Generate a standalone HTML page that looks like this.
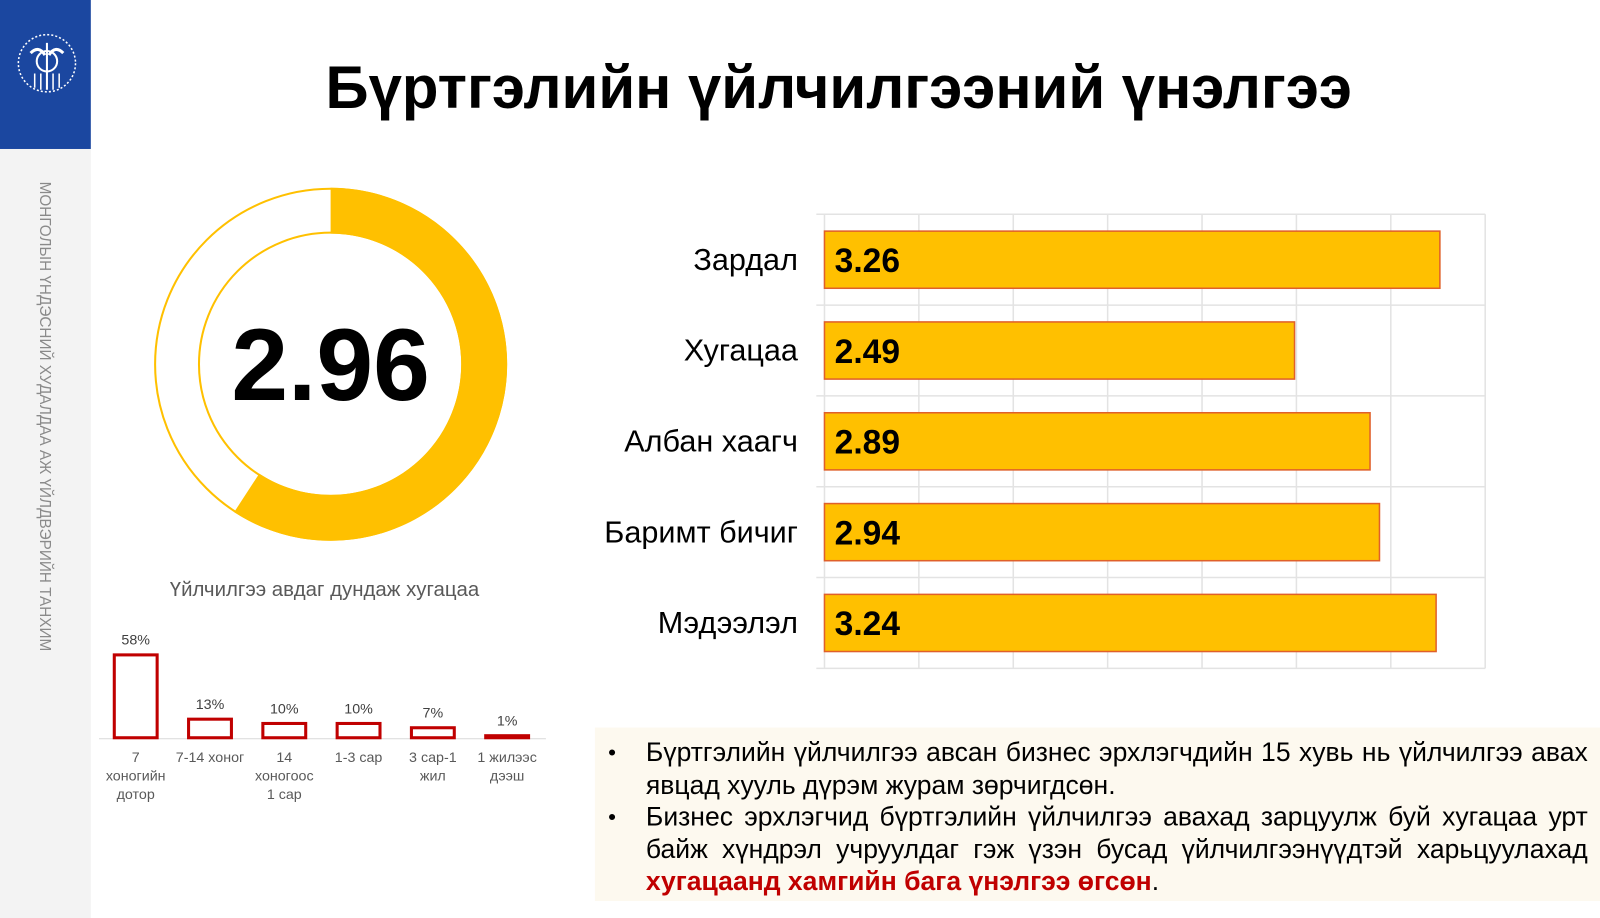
<!DOCTYPE html>
<html><head><meta charset="utf-8">
<style>
html,body{margin:0;padding:0}
body{width:1600px;height:900px;position:relative;overflow:hidden;background:#fff;font-family:"Liberation Sans",Arial,sans-serif}
#wrap{position:absolute;left:0;top:0;width:1568px;height:882px;transform-origin:0 0;transform:scale(1.0204)}
.abs{position:absolute}
</style></head>
<body>
<div id="wrap">
<div class="abs" style="left:0;top:0;width:89px;height:900px;background:#f3f3f3"></div>
<div class="abs" style="left:0;top:0;width:89px;height:146px;background:#1b47a0">
<svg width="89" height="146">
<circle cx="46" cy="62" r="28" fill="none" stroke="#fff" stroke-width="1.5" stroke-dasharray="2 2"/>
<circle cx="46" cy="60" r="10" fill="none" stroke="#fff" stroke-width="2"/>
<path d="M30 52 q8 -8 14 2 M62 52 q-8 -8 -14 2" stroke="#fff" stroke-width="3" fill="none"/>
<line x1="46" y1="42" x2="46" y2="88" stroke="#fff" stroke-width="2"/>
<path d="M34 72v14M40 72v16M52 72v16M58 72v14" stroke="#fff" stroke-width="1.5"/>
</svg></div>
<div class="abs" style="left:44px;top:178px;transform-origin:0 0;transform:rotate(90deg) translate(0,-8px);white-space:nowrap;font-size:15px;color:#8a8a8a">МОНГОЛЫН ҮНДЭСНИЙ ХУДАЛДАА АЖ ҮЙЛДВЭРИЙН ТАНХИМ</div>

<div class="abs" style="left:89px;width:1466px;top:53px;text-align:center;font-size:58.7px;font-weight:bold;color:#000">Бүртгэлийн үйлчилгээний үнэлгээ</div>

<svg class="abs" style="left:0;top:0" width="1600" height="900" id="charts">
<g id="donut"></g>
<g id="small"></g>
<g id="hbar"></g>
</svg>

<div class="abs" style="left:118px;width:400px;top:567px;text-align:center;font-size:20px;color:#595959">Үйлчилгээ авдаг дундаж хугацаа</div>

<div class="abs" style="left:583px;top:713px;width:985px;height:170px;background:#fdf9ef"></div>
<div class="abs" style="left:596px;top:722px;width:960px;font-size:26px;line-height:31.5px;color:#000">
<div style="position:relative;padding-left:37px;text-align:justify"><span style="position:absolute;left:0;font-size:22px">•</span>Бүртгэлийн үйлчилгээ авсан бизнес эрхлэгчдийн 15 хувь нь үйлчилгээ авах явцад хууль дүрэм журам зөрчигдсөн.</div>
<div style="position:relative;padding-left:37px;text-align:justify"><span style="position:absolute;left:0;font-size:22px">•</span>Бизнес эрхлэгчид бүртгэлийн үйлчилгээ авахад зарцуулж буй хугацаа урт байж хүндрэл учруулдаг гэж үзэн бусад үйлчилгээнүүдтэй харьцуулахад <b style="color:#c00000">хугацаанд хамгийн бага үнэлгээ өгсөн</b>.</div>
</div>
</div>

<script>
const donutValue = 2.96;
const donutMax = 5;
const smallCategories = [["7","хоногийн","дотор"],["7-14 хоног"],["14","хоногоос","1 сар"],["1-3 сар"],["3 сар-1","жил"],["1 жилээс","дээш"]];
const smallValues = [58, 13, 10, 10, 7, 1];
const smallLabels = ["58%","13%","10%","10%","7%","1%"];
const hCategories = ["Зардал","Хугацаа","Албан хаагч","Баримт бичиг","Мэдээлэл"];
const hValues = [3.26, 2.49, 2.89, 2.94, 3.24];
const hLabels = ["3.26","2.49","2.89","2.94","3.24"];
const hTicks = [0,0.5,1,1.5,2,2.5,3,3.5];

const NS="http://www.w3.org/2000/svg";
function mk(tag, attrs, parent){const e=document.createElementNS(NS,tag);for(const k in attrs)e.setAttribute(k,attrs[k]);parent.appendChild(e);return e;}

(function(){
  const g=document.getElementById('donut');
  const cx=324, cy=357, R=173, r=128;
  const c1=mk('circle',{cx:cx,cy:cy,r:R-1,fill:'none',stroke:'#ffc000','stroke-width':2},g);
  
  
  const c2=mk('circle',{cx:cx,cy:cy,r:r+1,fill:'none',stroke:'#ffc000','stroke-width':2},g);
  
  
  const a=2*Math.PI*donutValue/donutMax;
  const pt=(rad,ang)=>[cx+rad*Math.sin(ang), cy-rad*Math.cos(ang)];
  const large=a>Math.PI?1:0;
  const [x1,y1]=pt(R,0),[x2,y2]=pt(R,a),[x3,y3]=pt(r,a),[x4,y4]=pt(r,0);
  const p=mk('path',{d:`M${x1} ${y1} A${R} ${R} 0 ${large} 1 ${x2} ${y2} L${x3} ${y3} A${r} ${r} 0 ${large} 0 ${x4} ${y4} Z`,fill:'#ffc000'},g);
  
  
  const t=mk('text',{x:cx,y:cy+35,'text-anchor':'middle','font-size':100,'font-weight':'bold',fill:'#000','font-family':'Liberation Sans, sans-serif'},g);
  t.textContent=donutValue.toFixed(2);
  
  
})();

(function(){
  const g=document.getElementById('small');
  const base=723, x0=133, step=72.8, bw=42, k=1.4;
  const ax=mk('line',{x1:97,y1:base+1,x2:535,y2:base+1,stroke:'#d9d9d9','stroke-width':1},g);
  
  
  smallValues.forEach((v,i)=>{
    const cx=x0+i*step, h=Math.max(v*k,2);
    const b=mk('rect',{x:cx-bw/2,y:base-h,width:bw,height:h,fill:'#fff',stroke:'#c00000','stroke-width':3},g);
    
    
    const t=mk('text',{x:cx,y:base-h-10,'text-anchor':'middle','font-size':14,fill:'#404040'},g);
    t.textContent=smallLabels[i];
    
    
    smallCategories[i].forEach((line,j)=>{
      const c=mk('text',{x:cx,y:base+24+j*18,'text-anchor':'middle','font-size':14,fill:'#595959'},g);
      c.textContent=line;
      
      
    });
  });
})();

(function(){
  const g=document.getElementById('hbar');
  const x0=808, k=185, top=210, band=89, bh=56;
  const xs=v=>x0+v*k;
  const bottom=top+band*hCategories.length;
  hTicks.forEach(tv=>{
    const l=mk('line',{x1:xs(tv),y1:top,x2:xs(tv),y2:bottom,stroke:'#e3e3e3','stroke-width':1.5},g);
    
    
  });
  for(let i=0;i<=hCategories.length;i++){
    const l=mk('line',{x1:800,y1:top+i*band,x2:xs(hTicks[hTicks.length-1]),y2:top+i*band,stroke:'#e3e3e3','stroke-width':1.5},g);
    
    
  }
  hValues.forEach((v,i)=>{
    const y=top+i*band+(band-bh)/2;
    const b=mk('rect',{x:x0,y:y,width:xs(v)-x0,height:bh,fill:'#ffc000',stroke:'#e0602a','stroke-width':1.5},g);
    
    
    const t=mk('text',{x:x0+10,y:y+bh/2+12,'font-size':34,'font-weight':'bold',fill:'#000',textLength:64,lengthAdjust:'spacingAndGlyphs'},g);
    t.textContent=hLabels[i];
    
    
    const c=mk('text',{x:782,y:y+bh/2+10,'text-anchor':'end','font-size':30,fill:'#000'},g);
    c.textContent=hCategories[i];
    
    
  });
})();
</script>
</body></html>
